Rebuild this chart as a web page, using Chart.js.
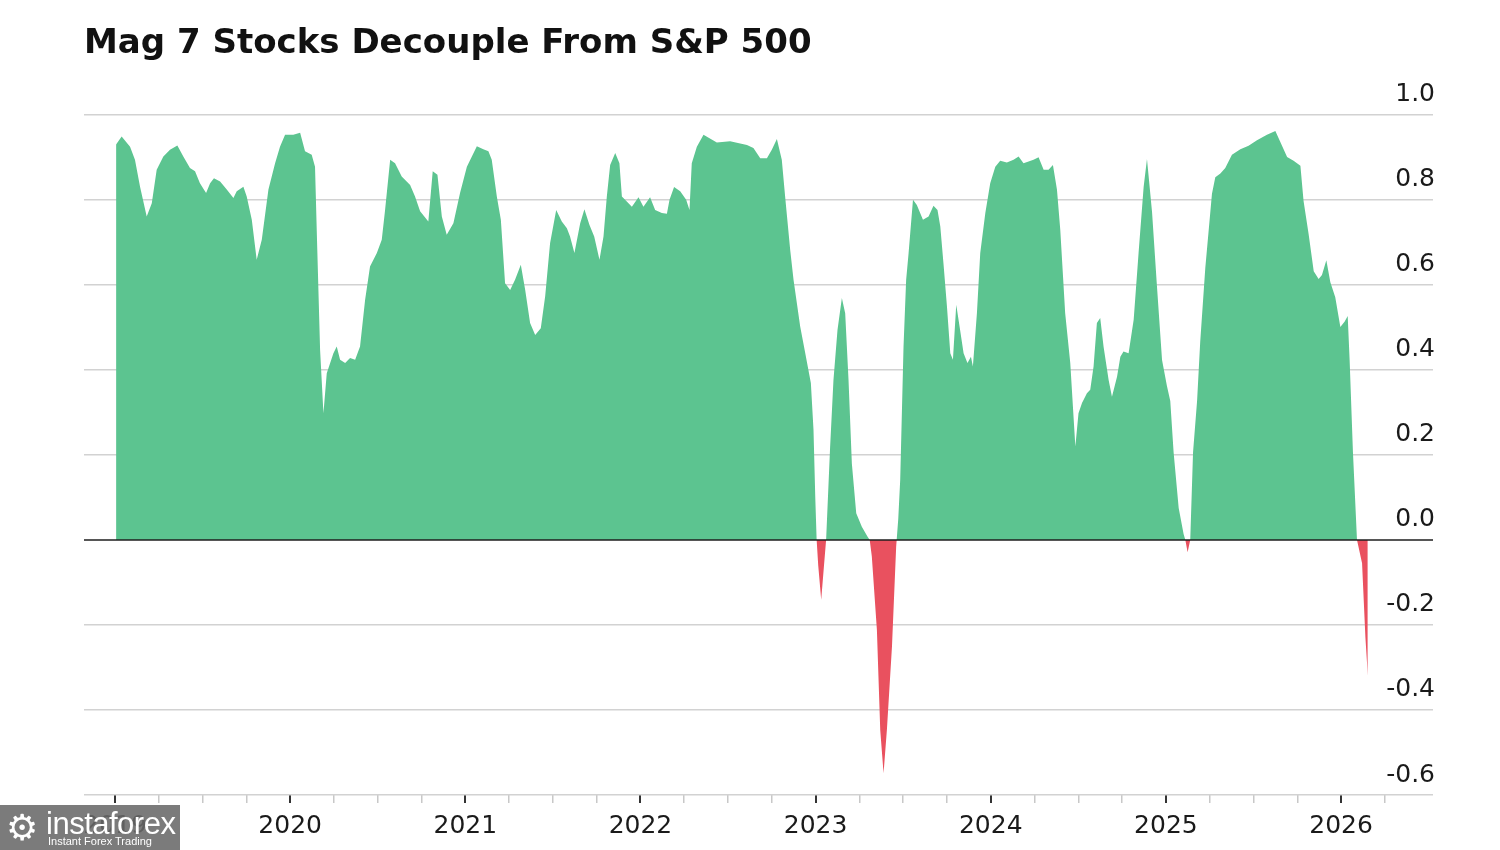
<!DOCTYPE html>
<html>
<head>
<meta charset="utf-8">
<script src="https://cdn.jsdelivr.net/npm/chart.js@4.4.1/dist/chart.umd.min.js"></script>
<style>
  html, body { margin: 0; padding: 0; background: #fff; }
  #wrap { position: relative; width: 1500px; height: 850px; }
  #wm {
    position: absolute; left: 0; top: 805px; width: 180px; height: 45px;
    background: rgba(105,105,105,0.88); color: #fff; font-family: "Liberation Sans", sans-serif;
  }
  #wm .big { position: absolute; left: 46px; top: 1px; font-size: 31px; letter-spacing: -0.5px; }
  #wm .small { position: absolute; left: 48px; top: 30px; font-size: 11px; }
  #wm .gear { position: absolute; left: 6px; top: 2px; font-size: 36px; font-family: "DejaVu Sans"; }
</style>
</head>
<body>
<div id="wrap">
  <canvas id="myChart" width="1500" height="850"></canvas>
  <div id="wm"><span class="gear">⚙</span><span class="big">instaforex</span><span class="small">Instant Forex Trading</span></div>
</div>
<script>
// rolling correlation, Mag 7 vs S&P 500 (x = decimal year)
var dates = [
  2019.006, 2019.038, 2019.086, 2019.114, 2019.143, 2019.181, 2019.210, 2019.238, 2019.276, 2019.314,
  2019.356, 2019.390, 2019.428, 2019.457, 2019.485, 2019.520, 2019.543, 2019.565, 2019.600, 2019.638,
  2019.676, 2019.695, 2019.733, 2019.752, 2019.781, 2019.809, 2019.838, 2019.876, 2019.914, 2019.942,
  2019.971, 2020.018, 2020.057, 2020.085, 2020.123, 2020.142, 2020.155, 2020.171, 2020.190, 2020.209,
  2020.247, 2020.266, 2020.285, 2020.314, 2020.342, 2020.371, 2020.399, 2020.428, 2020.456, 2020.495,
  2020.523, 2020.542, 2020.571, 2020.599, 2020.637, 2020.685, 2020.713, 2020.742, 2020.789, 2020.814,
  2020.841, 2020.866, 2020.894, 2020.932, 2020.970, 2021.009, 2021.066, 2021.103, 2021.132, 2021.151,
  2021.180, 2021.203, 2021.227, 2021.256, 2021.284, 2021.317, 2021.342, 2021.370, 2021.399, 2021.431,
  2021.456, 2021.484, 2021.519, 2021.551, 2021.580, 2021.598, 2021.623, 2021.656, 2021.680, 2021.709,
  2021.736, 2021.766, 2021.789, 2021.808, 2021.827, 2021.856, 2021.880, 2021.894, 2021.922, 2021.951,
  2021.989, 2022.017, 2022.055, 2022.084, 2022.122, 2022.151, 2022.166, 2022.192, 2022.227, 2022.261,
  2022.280, 2022.293, 2022.322, 2022.360, 2022.436, 2022.512, 2022.608, 2022.645, 2022.684, 2022.722,
  2022.750, 2022.779, 2022.807, 2022.826, 2022.855, 2022.874, 2022.912, 2022.941, 2022.973, 2022.988,
  2022.998, 2023.006, 2023.015, 2023.032, 2023.046, 2023.060, 2023.083, 2023.102, 2023.125, 2023.150,
  2023.169, 2023.188, 2023.207, 2023.232, 2023.264, 2023.296, 2023.309, 2023.321, 2023.350, 2023.369,
  2023.388, 2023.407, 2023.436, 2023.460, 2023.472, 2023.483, 2023.502, 2023.517, 2023.531, 2023.556,
  2023.578, 2023.613, 2023.645, 2023.673, 2023.696, 2023.712, 2023.730, 2023.750, 2023.769, 2023.784,
  2023.803, 2023.822, 2023.845, 2023.867, 2023.887, 2023.898, 2023.921, 2023.940, 2023.969, 2023.997,
  2024.026, 2024.054, 2024.092, 2024.130, 2024.159, 2024.187, 2024.216, 2024.244, 2024.273, 2024.302,
  2024.330, 2024.355, 2024.378, 2024.397, 2024.416, 2024.425, 2024.454, 2024.483, 2024.501, 2024.521,
  2024.549, 2024.568, 2024.587, 2024.606, 2024.625, 2024.644, 2024.673, 2024.692, 2024.721, 2024.740,
  2024.758, 2024.787, 2024.816, 2024.844, 2024.873, 2024.892, 2024.921, 2024.949, 2024.978, 2025.006,
  2025.025, 2025.044, 2025.073, 2025.101, 2025.111, 2025.124, 2025.139, 2025.155, 2025.178, 2025.196,
  2025.225, 2025.244, 2025.263, 2025.282, 2025.311, 2025.339, 2025.377, 2025.425, 2025.472, 2025.520,
  2025.577, 2025.625, 2025.663, 2025.692, 2025.729, 2025.768, 2025.786, 2025.815, 2025.844, 2025.872,
  2025.891, 2025.916, 2025.939, 2025.967, 2025.996, 2026.021, 2026.038, 2026.049, 2026.068, 2026.091,
  2026.120, 2026.139, 2026.153
];
var corr = [
  0.930, 0.949, 0.925, 0.894, 0.831, 0.761, 0.792, 0.871, 0.902, 0.918,
  0.928, 0.902, 0.875, 0.867, 0.839, 0.816, 0.839, 0.851, 0.843, 0.824,
  0.804, 0.820, 0.831, 0.808, 0.753, 0.659, 0.706, 0.824, 0.886, 0.925,
  0.953, 0.953, 0.958, 0.914, 0.906, 0.878, 0.682, 0.447, 0.298, 0.392,
  0.439, 0.455, 0.424, 0.416, 0.428, 0.424, 0.455, 0.565, 0.643, 0.675,
  0.706, 0.776, 0.894, 0.886, 0.855, 0.835, 0.808, 0.773, 0.749, 0.867,
  0.859, 0.761, 0.718, 0.745, 0.816, 0.878, 0.926, 0.919, 0.914, 0.894,
  0.808, 0.753, 0.604, 0.588, 0.612, 0.647, 0.588, 0.510, 0.482, 0.498,
  0.573, 0.698, 0.776, 0.749, 0.733, 0.714, 0.675, 0.745, 0.778, 0.741,
  0.714, 0.659, 0.714, 0.808, 0.882, 0.910, 0.886, 0.808, 0.796, 0.784,
  0.806, 0.784, 0.806, 0.776, 0.769, 0.767, 0.800, 0.830, 0.820, 0.800,
  0.776, 0.886, 0.925, 0.953, 0.935, 0.938, 0.929, 0.922, 0.898, 0.898,
  0.918, 0.943, 0.894, 0.808, 0.682, 0.612, 0.502, 0.439, 0.369, 0.259,
  0.102, 0.000, -0.060, -0.141, -0.070, 0.000, 0.220, 0.376, 0.494, 0.569,
  0.533, 0.376, 0.180, 0.063, 0.031, 0.008, 0.000, -0.039, -0.212, -0.447,
  -0.549, -0.447, -0.251, -0.016, 0.050, 0.141, 0.455, 0.612, 0.675, 0.800,
  0.788, 0.753, 0.761, 0.786, 0.776, 0.737, 0.651, 0.549, 0.439, 0.424,
  0.553, 0.502, 0.439, 0.416, 0.431, 0.408, 0.533, 0.675, 0.769, 0.839,
  0.878, 0.892, 0.888, 0.894, 0.902, 0.886, 0.890, 0.894, 0.900, 0.871,
  0.871, 0.882, 0.824, 0.729, 0.596, 0.533, 0.416, 0.220, 0.298, 0.322,
  0.345, 0.353, 0.408, 0.510, 0.522, 0.455, 0.376, 0.337, 0.384, 0.431,
  0.443, 0.439, 0.518, 0.675, 0.831, 0.896, 0.771, 0.597, 0.423, 0.362,
  0.327, 0.206, 0.075, 0.014, 0.000, -0.029, 0.000, 0.206, 0.327, 0.467,
  0.640, 0.727, 0.814, 0.853, 0.862, 0.875, 0.906, 0.919, 0.927, 0.940,
  0.953, 0.962, 0.927, 0.901, 0.892, 0.880, 0.797, 0.719, 0.632, 0.614,
  0.623, 0.658, 0.606, 0.571, 0.501, 0.514, 0.527, 0.423, 0.206, 0.000,
  -0.055, -0.229, -0.320
];
var yearTicks = [2019, 2020, 2021, 2022, 2023, 2024, 2025, 2026];
var yMin = -0.6, yMax = 1.0, yStep = 0.2;

var green = '#5cc490';
var red = '#e9515f';

var points = [];
dates.forEach(function(d, i){
    points.push({x: d, y: corr[i]});
});

function isYear(v){
    return yearTicks.indexOf(Math.round(v)) >= 0 && Math.abs(v - Math.round(v)) < 1e-6;
}

// dark zero line drawn over the fill
var zeroLine = {
    id: 'zeroLine',
    afterDatasetsDraw: function(chart){
        var c = chart.ctx, a = chart.chartArea;
        var y = chart.scales.y.getPixelForValue(0);
        c.save();
        c.strokeStyle = '#1e1e1e';
        c.lineWidth = 1.5;
        c.beginPath();
        c.moveTo(a.left, y);
        c.lineTo(a.right, y);
        c.stroke();
        c.restore();
    }
};

var ctx = document.getElementById('myChart');
var myChart = new Chart(ctx, {
    type: 'line',
    data: {
        datasets: [{
            label: 'Correlation',
            data: points,
            borderWidth: 0,
            borderColor: 'rgba(0,0,0,0)',
            pointRadius: 0,
            tension: 0,
            fill: {target: 'origin', above: green, below: red}
        }]
    },
    options: {
        responsive: false,
        animation: false,
        devicePixelRatio: 1,
        layout: { padding: {left: 84, right: 63, top: 16, bottom: 1} },
        plugins: {
            legend: { display: false },
            tooltip: { enabled: false },
            title: {
                display: true,
                text: 'Mag 7 Stocks Decouple From S&P 500',
                align: 'start',
                color: '#111',
                font: { family: 'DejaVu Sans', size: 34, weight: 'bold' },
                padding: { top: 8, bottom: 50 }
            }
        },
        scales: {
            x: {
                type: 'linear',
                min: 2018.823,
                max: 2026.525,
                border: { display: false },
                afterBuildTicks: function(scale){
                    scale.ticks = scale.ticks.filter(function(t){ return t.value < 2026.3; });
                },
                grid: {
                    drawOnChartArea: false,
                    drawTicks: true,
                    tickLength: 8,
                    color: function(c){ return isYear(c.tick.value) ? '#333' : '#c8c8c8'; },
                    lineWidth: function(c){ return isYear(c.tick.value) ? 2 : 1.5; }
                },
                ticks: {
                    stepSize: 0.25,
                    includeBounds: false,
                    autoSkip: false,
                    maxRotation: 0,
                    padding: 8,
                    color: '#1a1a1a',
                    font: { family: 'DejaVu Sans', size: 25 },
                    callback: function(v){ return isYear(v) ? String(Math.round(v)) : ''; }
                }
            },
            y: {
                position: 'right',
                min: yMin,
                max: yMax,
                border: { display: false },
                grid: {
                    drawTicks: false,
                    color: function(c){ return Math.abs(c.tick.value) < 1e-9 ? 'rgba(0,0,0,0)' : '#d2d2d2'; },
                    lineWidth: 1.5
                },
                ticks: {
                    stepSize: yStep,
                    mirror: true,
                    padding: 2,
                    labelOffset: -20,
                    color: '#1a1a1a',
                    font: { family: 'DejaVu Sans', size: 25 },
                    callback: function(v){ return v.toFixed(1); }
                }
            }
        }
    },
    plugins: [zeroLine]
});
</script>
</body>
</html>
